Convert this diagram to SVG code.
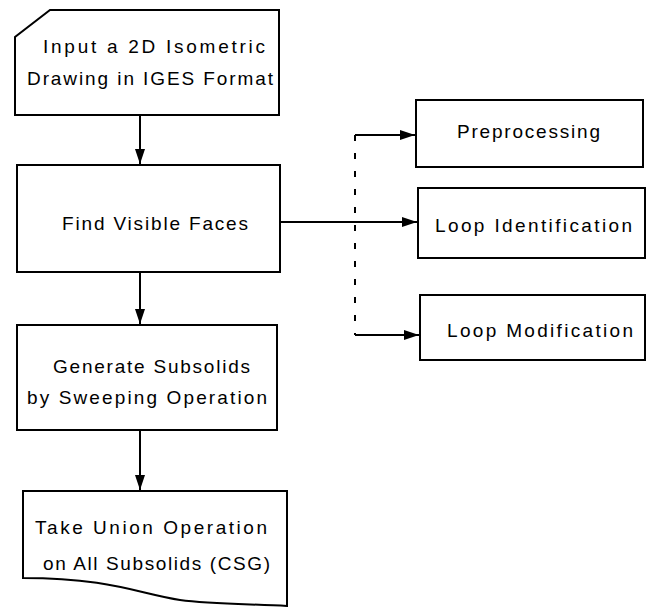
<svg xmlns="http://www.w3.org/2000/svg" width="651" height="607" viewBox="0 0 651 607">
<style>
.box{fill:#fff;stroke:#000;stroke-width:2}
.lbl{font-family:"Liberation Sans",Arial,sans-serif;font-size:19px;fill:#000}
.con{fill:none;stroke:#000;stroke-width:2}
</style>
<defs>
<marker id="ah" markerUnits="userSpaceOnUse" markerWidth="16" markerHeight="12" refX="15" refY="6" orient="auto">
<path d="M0,1 L15,6 L0,11 Z" fill="#000"/>
</marker>
</defs>
<rect width="651" height="607" fill="#fff"/>
<g id="connectors">
<line class="con" x1="140" y1="115" x2="140" y2="164" marker-end="url(#ah)"/>
<line class="con" x1="140" y1="272" x2="140" y2="324" marker-end="url(#ah)"/>
<line class="con" x1="140" y1="430" x2="140" y2="490" marker-end="url(#ah)"/>
<line class="con" x1="280" y1="222" x2="417" y2="222" marker-end="url(#ah)"/>
<line class="con" x1="355" y1="135" x2="355" y2="335" stroke-dasharray="6,12"/>
<line class="con" x1="355" y1="135" x2="415" y2="135" marker-end="url(#ah)"/>
<line class="con" x1="355" y1="335" x2="419" y2="335" marker-end="url(#ah)"/>
</g>
<g id="input">
<path class="box" d="M50,10 H279 V115 H15 V37 Z"/>
<text class="lbl" x="43" y="53" textLength="222" lengthAdjust="spacing">Input a 2D Isometric</text>
<text class="lbl" x="27" y="85" textLength="246" lengthAdjust="spacing">Drawing in IGES Format</text>
</g>
<g id="find">
<rect class="box" x="17" y="165" width="263" height="107"/>
<text class="lbl" x="62" y="230" textLength="186" lengthAdjust="spacing">Find Visible Faces</text>
</g>
<g id="generate">
<rect class="box" x="17" y="325" width="260" height="105"/>
<text class="lbl" x="53" y="373" textLength="197" lengthAdjust="spacing">Generate Subsolids</text>
<text class="lbl" x="27" y="404" textLength="240" lengthAdjust="spacing">by Sweeping Operation</text>
</g>
<g id="union">
<path class="box" d="M23,491 H287 V606 C250,604 210,604 180,600 C140,594 110,578 23,578 Z"/>
<text class="lbl" x="35" y="534" textLength="232" lengthAdjust="spacing">Take Union Operation</text>
<text class="lbl" x="43" y="570" textLength="227" lengthAdjust="spacing">on All Subsolids (CSG)</text>
</g>
<g id="preprocessing">
<rect class="box" x="416" y="100" width="227" height="67"/>
<text class="lbl" x="457" y="138" textLength="143" lengthAdjust="spacing">Preprocessing</text>
</g>
<g id="loopid">
<rect class="box" x="418" y="188" width="227" height="70"/>
<text class="lbl" x="435" y="232" textLength="197" lengthAdjust="spacing">Loop Identification</text>
</g>
<g id="loopmod">
<rect class="box" x="420" y="295" width="225" height="65"/>
<text class="lbl" x="447" y="337" textLength="186" lengthAdjust="spacing">Loop Modification</text>
</g>
</svg>
